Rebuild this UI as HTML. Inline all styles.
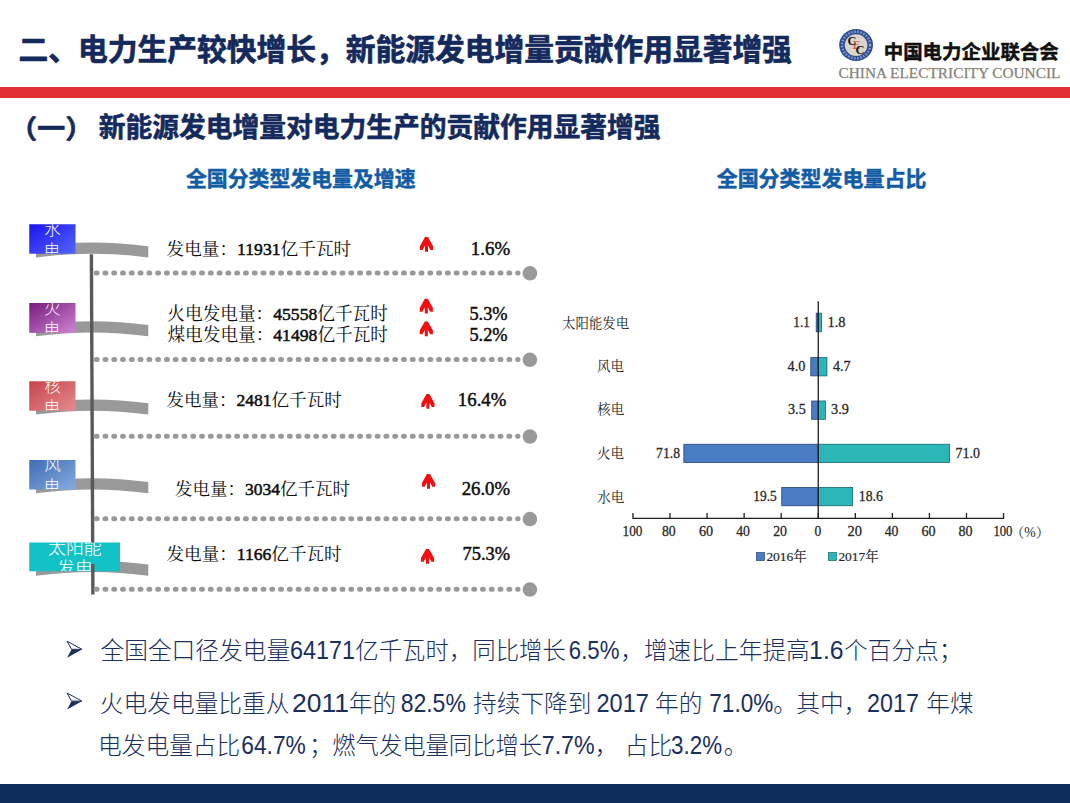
<!DOCTYPE html>
<html lang="zh-CN">
<head>
<meta charset="utf-8">
<title>二、电力生产较快增长，新能源发电增量贡献作用显著增强</title>
<style>
html,body{margin:0;padding:0;background:#fff;}
body{font-family:"Liberation Sans",sans-serif;}
#slide{position:relative;width:1070px;height:803px;overflow:hidden;background:#fff;}
#rule{position:absolute;left:0;top:87px;width:1070px;height:10.5px;background:#df2f31;}
#foot{position:absolute;left:0;top:784.3px;width:1070px;height:18.7px;background:#0f2d5b;}
#art{position:absolute;left:0;top:0;width:1070px;height:803px;}
#art text{font-family:"Liberation Serif",serif;}
#art text.sb{font-family:"Liberation Sans","Noto Sans CJK SC",sans-serif;font-weight:bold;}
#art text.sl{font-family:"Liberation Sans","Noto Sans CJK SC",sans-serif;font-weight:300;}
#art text.sf{font-family:"Liberation Serif","Noto Serif CJK SC",serif;}
</style>
</head>
<body>
<div id="slide">
<div id="rule"></div>
<div id="foot"></div>
<svg id="art" viewBox="0 0 1070 803" width="1070" height="803">
<text class="sb" x="18.39" y="60.33" font-size="29.75" fill="#152a5c" stroke="#152a5c" stroke-width="0.7" stroke-linejoin="round" textLength="773.5">二、电力生产较快增长，新能源发电增量贡献作用显著增强</text>
<text class="sb" x="9.26" y="137.98" font-size="26" fill="#152a5c" stroke="#152a5c" stroke-width="0.6" stroke-linejoin="round" textLength="83.9" lengthAdjust="spacingAndGlyphs">（一）</text>
<text class="sb" x="98.8" y="136.7" font-size="26.75" fill="#152a5c" stroke="#152a5c" stroke-width="0.6" stroke-linejoin="round" textLength="561.75">新能源发电增量对电力生产的贡献作用显著增强</text>
<text class="sb" x="883.69" y="59.47" font-size="19.45" fill="#111" stroke="#111" stroke-width="0.5" stroke-linejoin="round" textLength="175.05">中国电力企业联合会</text>
<text class="sb" x="185.92" y="185.51" font-size="20.88" fill="#125ca5" stroke="#125ca5" stroke-width="0.5" stroke-linejoin="round" textLength="229.68">全国分类型发电量及增速</text>
<text class="sb" x="716.66" y="185.54" font-size="20.97" fill="#125ca5" stroke="#125ca5" stroke-width="0.5" stroke-linejoin="round" textLength="209.7">全国分类型发电量占比</text>
<g id="logo">
<ellipse cx="856.1" cy="45.05" rx="16.9" ry="16" fill="#2d4d93"/>
<ellipse cx="856.1" cy="45.05" rx="14" ry="13.3" fill="none" stroke="#9fb0d8" stroke-width="2.4" stroke-dasharray="1.6 1.5" opacity="0.8"/>
<ellipse cx="856.1" cy="45.1" rx="11.3" ry="10.9" fill="#dcd5cb"/>
<text x="852.6" y="49.4" font-size="12" font-weight="bold" fill="#d9676a">E</text>
<text x="847.4" y="44.9" font-size="12.4" font-weight="bold" fill="#161616">C</text>
<text x="855.5" y="53.7" font-size="12.4" font-weight="bold" fill="#161616">C</text>
</g>
<text x="838.57" y="78.4" font-size="15.2" fill="#857f75" textLength="221.84" lengthAdjust="spacingAndGlyphs" stroke="#857f75" stroke-width="0.25">CHINA ELECTRICITY COUNCIL</text>
<path fill="#999" d="M36 246.25 A420 420 0 0 1 148.3 246.25 L148.3 257.55 A409 409 0 0 0 36 257.55 Z"/>
<path fill="#999" d="M36 325 A420 420 0 0 1 148.3 325 L148.3 336.3 A409 409 0 0 0 36 336.3 Z"/>
<path fill="#999" d="M36 403.25 A420 420 0 0 1 148.3 403.25 L148.3 414.55 A409 409 0 0 0 36 414.55 Z"/>
<path fill="#999" d="M36 482 A420 420 0 0 1 148.3 482 L148.3 493.3 A409 409 0 0 0 36 493.3 Z"/>
<path fill="#999" d="M36 564.5 A420 420 0 0 1 148.3 564.5 L148.3 575.8 A409 409 0 0 0 36 575.8 Z"/>
<path fill="#595959" d="M89.7 254.3 L93.1 254.3 L94.6 594.5 L91.2 594.5 Z"/>
<path d="M96.2 273 H518" stroke="#999" stroke-width="5" stroke-linecap="round" stroke-dasharray="0.9 7.88" fill="none"/>
<circle cx="529.9" cy="273.3" r="7.3" fill="#999"/>
<path d="M96.2 359.5 H518" stroke="#999" stroke-width="5" stroke-linecap="round" stroke-dasharray="0.9 7.88" fill="none"/>
<circle cx="529.9" cy="359.8" r="7.3" fill="#999"/>
<path d="M96.2 436.25 H518" stroke="#999" stroke-width="5" stroke-linecap="round" stroke-dasharray="0.9 7.88" fill="none"/>
<circle cx="529.9" cy="436.55" r="7.3" fill="#999"/>
<path d="M96.2 518.75 H518" stroke="#999" stroke-width="5" stroke-linecap="round" stroke-dasharray="0.9 7.88" fill="none"/>
<circle cx="529.9" cy="519.05" r="7.3" fill="#999"/>
<path d="M96.2 589.25 H518" stroke="#999" stroke-width="5" stroke-linecap="round" stroke-dasharray="0.9 7.88" fill="none"/>
<circle cx="529.9" cy="589.55" r="7.3" fill="#999"/>
<defs>
<linearGradient id="gb" x1="0" y1="0" x2="1" y2="1"><stop offset="0" stop-color="#1c14f0"/><stop offset="1" stop-color="#5266f8"/></linearGradient>
<linearGradient id="gp" x1="0" y1="0" x2="1" y2="1"><stop offset="0" stop-color="#761c80"/><stop offset="1" stop-color="#d084d4"/></linearGradient>
<linearGradient id="gr" x1="0" y1="0" x2="1" y2="1"><stop offset="0" stop-color="#c54448"/><stop offset="1" stop-color="#e58c92"/></linearGradient>
<linearGradient id="gs" x1="0" y1="0" x2="1" y2="1"><stop offset="0" stop-color="#3f6db7"/><stop offset="1" stop-color="#84acdd"/></linearGradient>
<linearGradient id="gt" x1="0" y1="0" x2="1" y2="1"><stop offset="0" stop-color="#12c2c6"/><stop offset="1" stop-color="#12c2c6"/></linearGradient>
</defs>
<clipPath id="c0"><rect x="29.25" y="224.25" width="46.25" height="29.5"/></clipPath>
<rect x="29.25" y="224.25" width="46.25" height="29.5" fill="url(#gb)"/>
<g clip-path="url(#c0)">
<text class="sl" x="44.32" y="235.04" font-size="16.4" fill="#fff">水</text>
<text class="sl" x="43.74" y="256.36" font-size="16.4" fill="#fff">电</text>
</g>
<clipPath id="c1"><rect x="29.25" y="303" width="46.25" height="29.9"/></clipPath>
<rect x="29.25" y="303" width="46.25" height="29.9" fill="url(#gp)"/>
<g clip-path="url(#c1)">
<text class="sl" x="44.35" y="313.73" font-size="16.4" fill="#fff">火</text>
<text class="sl" x="43.74" y="335.11" font-size="16.4" fill="#fff">电</text>
</g>
<clipPath id="c2"><rect x="29.25" y="381.25" width="46.25" height="29.5"/></clipPath>
<rect x="29.25" y="381.25" width="46.25" height="29.5" fill="url(#gr)"/>
<g clip-path="url(#c2)">
<text class="sl" x="44.52" y="392.09" font-size="16.4" fill="#fff">核</text>
<text class="sl" x="43.74" y="413.36" font-size="16.4" fill="#fff">电</text>
</g>
<clipPath id="c3"><rect x="29.25" y="460" width="46.25" height="29.5"/></clipPath>
<rect x="29.25" y="460" width="46.25" height="29.5" fill="url(#gs)"/>
<g clip-path="url(#c3)">
<text class="sl" x="44.39" y="470.37" font-size="16.4" fill="#fff">风</text>
<text class="sl" x="43.74" y="492.11" font-size="16.4" fill="#fff">电</text>
</g>
<clipPath id="c4"><rect x="29.25" y="542.5" width="90.75" height="28.8"/></clipPath>
<rect x="29.25" y="542.5" width="90.75" height="28.8" fill="url(#gt)"/>
<g clip-path="url(#c4)">
<text class="sl" x="48.08" y="553.89" font-size="17.9" fill="#fff" textLength="53.7">太阳能</text>
<text class="sl" x="57.1" y="574.98" font-size="17.9" fill="#fff" textLength="35.8">发电</text>
</g>
<path fill="#595959" d="M91.1 564H94.5V572H91.1Z"/>
<text class="sf" x="166.49" y="254.8" font-size="17.59" fill="#0d0d0d" textLength="184.7" lengthAdjust="spacingAndGlyphs">发电量：<tspan stroke="#0d0d0d" stroke-width="0.5">11931</tspan>亿千瓦时</text>
<text class="sf" x="167.36" y="319.6" font-size="17.64" fill="#0d0d0d" textLength="220.5" lengthAdjust="spacingAndGlyphs">火电发电量：<tspan stroke="#0d0d0d" stroke-width="0.5">45558</tspan>亿千瓦时</text>
<text class="sf" x="167.47" y="341.3" font-size="17.64" fill="#0d0d0d" textLength="220.5" lengthAdjust="spacingAndGlyphs">煤电发电量：<tspan stroke="#0d0d0d" stroke-width="0.5">41498</tspan>亿千瓦时</text>
<text class="sf" x="166.49" y="405.6" font-size="17.52" fill="#0d0d0d" textLength="175.2" lengthAdjust="spacingAndGlyphs">发电量：<tspan stroke="#0d0d0d" stroke-width="0.5">2481</tspan>亿千瓦时</text>
<text class="sf" x="174.99" y="494.6" font-size="17.49" fill="#0d0d0d" textLength="174.9" lengthAdjust="spacingAndGlyphs">发电量：<tspan stroke="#0d0d0d" stroke-width="0.5">3034</tspan>亿千瓦时</text>
<text class="sf" x="166.49" y="560.4" font-size="17.52" fill="#0d0d0d" textLength="175.2" lengthAdjust="spacingAndGlyphs">发电量：<tspan stroke="#0d0d0d" stroke-width="0.5">1166</tspan>亿千瓦时</text>
<text x="470.84" y="255" font-size="17.83" fill="#0d0d0d" textLength="39.3" lengthAdjust="spacingAndGlyphs" stroke="#0d0d0d" stroke-width="0.45">1.6%</text>
<text x="469.43" y="319.6" font-size="17.83" fill="#0d0d0d" textLength="38.19" lengthAdjust="spacingAndGlyphs" stroke="#0d0d0d" stroke-width="0.45">5.3%</text>
<text x="469.43" y="341.3" font-size="17.83" fill="#0d0d0d" textLength="38.19" lengthAdjust="spacingAndGlyphs" stroke="#0d0d0d" stroke-width="0.45">5.2%</text>
<text x="457.85" y="405.6" font-size="17.83" fill="#0d0d0d" textLength="48.54" lengthAdjust="spacingAndGlyphs" stroke="#0d0d0d" stroke-width="0.45">16.4%</text>
<text x="461.68" y="494.6" font-size="17.83" fill="#0d0d0d" textLength="48.47" lengthAdjust="spacingAndGlyphs" stroke="#0d0d0d" stroke-width="0.45">26.0%</text>
<text x="462.54" y="560.2" font-size="17.83" fill="#0d0d0d" textLength="47.59" lengthAdjust="spacingAndGlyphs" stroke="#0d0d0d" stroke-width="0.45">75.3%</text>
<defs><path id="arw" fill="#f01010" d="M-1.5 0H1.5L6.6 9.2V12.9H3.9L1.5 8.6V14.8H-1.5V8.6L-3.9 12.9H-6.6V9.2Z"/></defs>
<use href="#arw" x="426.5" y="237"/>
<use href="#arw" x="426.3" y="298.75"/>
<use href="#arw" x="426.3" y="321.4"/>
<use href="#arw" x="427.9" y="394"/>
<use href="#arw" x="428.5" y="473.9"/>
<use href="#arw" x="427.5" y="548.9"/>
<rect x="816.19" y="313.2" width="2.06" height="18.6" fill="#4a7cc4" stroke="#27457d" stroke-width="0.8"/>
<rect x="818.25" y="313.2" width="3.33" height="18.6" fill="#2cb6b7" stroke="#15686b" stroke-width="0.8"/>
<rect x="810.76" y="357.6" width="7.49" height="18.3" fill="#4a7cc4" stroke="#27457d" stroke-width="0.8"/>
<rect x="818.25" y="357.6" width="8.69" height="18.3" fill="#2cb6b7" stroke="#15686b" stroke-width="0.8"/>
<rect x="811.7" y="401" width="6.55" height="18.3" fill="#4a7cc4" stroke="#27457d" stroke-width="0.8"/>
<rect x="818.25" y="401" width="7.21" height="18.3" fill="#2cb6b7" stroke="#15686b" stroke-width="0.8"/>
<rect x="683.84" y="444.25" width="134.41" height="18.25" fill="#4a7cc4" stroke="#27457d" stroke-width="0.8"/>
<rect x="818.25" y="444.25" width="131.28" height="18.25" fill="#2cb6b7" stroke="#15686b" stroke-width="0.8"/>
<rect x="781.75" y="487.5" width="36.5" height="18.25" fill="#4a7cc4" stroke="#27457d" stroke-width="0.8"/>
<rect x="818.25" y="487.5" width="34.39" height="18.25" fill="#2cb6b7" stroke="#15686b" stroke-width="0.8"/>
<path d="M818.25 301.3V518.3" stroke="#1e1e1e" stroke-width="1.3" fill="none"/>
<path d="M632.35 518.3H1004.15M632.95 513V518.3M670.01 513V518.3M707.07 513V518.3M744.13 513V518.3M781.19 513V518.3M818.25 513V518.3M855.31 513V518.3M892.37 513V518.3M929.43 513V518.3M966.49 513V518.3M1003.55 513V518.3" stroke="#1e1e1e" stroke-width="1.3" fill="none"/>
<text class="sf" x="562.07" y="327.74" font-size="13.41" fill="#262626" textLength="67.05">太阳能发电</text>
<text class="sf" x="597.07" y="371.13" font-size="13.53" fill="#262626" textLength="27.06">风电</text>
<text class="sf" x="597.23" y="414.13" font-size="13.45" fill="#262626" textLength="26.9">核电</text>
<text class="sf" x="597.07" y="458.26" font-size="13.53" fill="#262626" textLength="27.06">火电</text>
<text class="sf" x="597.16" y="502.03" font-size="13.48" fill="#262626" textLength="26.96">水电</text>
<text x="793.34" y="327.2" font-size="15.3" fill="#262626" textLength="16.45" lengthAdjust="spacingAndGlyphs" stroke="#262626" stroke-width="0.3">1.1</text>
<text x="827.53" y="327.2" font-size="15.3" fill="#262626" textLength="18.02" lengthAdjust="spacingAndGlyphs" stroke="#262626" stroke-width="0.3">1.8</text>
<text x="787.52" y="370.5" font-size="15.3" fill="#262626" textLength="17.82" lengthAdjust="spacingAndGlyphs" stroke="#262626" stroke-width="0.3">4.0</text>
<text x="832.92" y="370.5" font-size="15.3" fill="#262626" textLength="17.68" lengthAdjust="spacingAndGlyphs" stroke="#262626" stroke-width="0.3">4.7</text>
<text x="788.02" y="414.1" font-size="15.3" fill="#262626" textLength="17.73" lengthAdjust="spacingAndGlyphs" stroke="#262626" stroke-width="0.3">3.5</text>
<text x="831.12" y="414.1" font-size="15.3" fill="#262626" textLength="17.76" lengthAdjust="spacingAndGlyphs" stroke="#262626" stroke-width="0.3">3.9</text>
<text x="656.1" y="457.5" font-size="15.3" fill="#262626" textLength="23.92" lengthAdjust="spacingAndGlyphs" stroke="#262626" stroke-width="0.3">71.8</text>
<text x="955.58" y="457.5" font-size="15.3" fill="#262626" textLength="24.45" lengthAdjust="spacingAndGlyphs" stroke="#262626" stroke-width="0.3">71.0</text>
<text x="753.32" y="500.7" font-size="15.3" fill="#262626" textLength="23.45" lengthAdjust="spacingAndGlyphs" stroke="#262626" stroke-width="0.3">19.5</text>
<text x="858.79" y="500.7" font-size="15.3" fill="#262626" textLength="24.12" lengthAdjust="spacingAndGlyphs" stroke="#262626" stroke-width="0.3">18.6</text>
<text x="622.58" y="536.3" font-size="15.3" fill="#262626" textLength="19.92" lengthAdjust="spacingAndGlyphs" stroke="#262626" stroke-width="0.3">100</text>
<text x="661.98" y="536.3" font-size="15.3" fill="#262626" textLength="13.75" lengthAdjust="spacingAndGlyphs" stroke="#262626" stroke-width="0.3">80</text>
<text x="698.89" y="536.3" font-size="15.3" fill="#262626" textLength="14.15" lengthAdjust="spacingAndGlyphs" stroke="#262626" stroke-width="0.3">60</text>
<text x="736.23" y="536.3" font-size="15.3" fill="#262626" textLength="13.79" lengthAdjust="spacingAndGlyphs" stroke="#262626" stroke-width="0.3">40</text>
<text x="773.14" y="536.3" font-size="15.3" fill="#262626" textLength="13.89" lengthAdjust="spacingAndGlyphs" stroke="#262626" stroke-width="0.3">20</text>
<text x="814.48" y="536.3" font-size="15.3" fill="#262626" textLength="6.78" lengthAdjust="spacingAndGlyphs" stroke="#262626" stroke-width="0.3">0</text>
<text x="847.62" y="536.3" font-size="15.3" fill="#262626" textLength="14.43" lengthAdjust="spacingAndGlyphs" stroke="#262626" stroke-width="0.3">20</text>
<text x="884.73" y="536.3" font-size="15.3" fill="#262626" textLength="13.79" lengthAdjust="spacingAndGlyphs" stroke="#262626" stroke-width="0.3">40</text>
<text x="921.39" y="536.3" font-size="15.3" fill="#262626" textLength="14.15" lengthAdjust="spacingAndGlyphs" stroke="#262626" stroke-width="0.3">60</text>
<text x="958.46" y="536.3" font-size="15.3" fill="#262626" textLength="14.07" lengthAdjust="spacingAndGlyphs" stroke="#262626" stroke-width="0.3">80</text>
<text x="993.38" y="536.3" font-size="15.3" fill="#262626" textLength="19.1" lengthAdjust="spacingAndGlyphs" stroke="#262626" stroke-width="0.3">100</text>
<text class="sf" x="1010.59" y="536.74" font-size="13.79" fill="#262626" textLength="39.07" lengthAdjust="spacingAndGlyphs">（%）</text>
<rect x="756.4" y="552.6" width="8" height="8" fill="#4a7cc4" stroke="#27457d" stroke-width="0.7"/>
<rect x="828.4" y="552.6" width="8" height="8" fill="#2cb6b7" stroke="#15686b" stroke-width="0.7"/>
<text class="sf" x="766.41" y="561.41" font-size="13.44" fill="#262626" stroke="#262626" stroke-width="0.2" stroke-linejoin="round" textLength="40.32" lengthAdjust="spacingAndGlyphs">2016年</text>
<text class="sf" x="838.41" y="561.41" font-size="13.44" fill="#262626" stroke="#262626" stroke-width="0.2" stroke-linejoin="round" textLength="40.32" lengthAdjust="spacingAndGlyphs">2017年</text>
<g transform="translate(0 0)"><path d="M71.5 649.4L81.9 649.4L67.1 657.8Z" fill="#1b2f5c"/><path d="M67 641.2L81.9 649.3L71.5 649.3Z" fill="none" stroke="#1b2f5c" stroke-width="1"/></g>
<g transform="translate(0 51.8)"><path d="M71.5 649.4L81.9 649.4L67.1 657.8Z" fill="#1b2f5c"/><path d="M67 641.2L81.9 649.3L71.5 649.3Z" fill="none" stroke="#1b2f5c" stroke-width="1"/></g>
<text class="sl" x="100.49" y="658.7" font-size="23.7" fill="#1b2f5c" textLength="189.6">全国全口径发电量</text>
<text class="sl" x="289.94" y="658.7" font-size="25" fill="#1b2f5c" textLength="65" lengthAdjust="spacingAndGlyphs">64171</text>
<text class="sl" x="355.34" y="658.7" font-size="23.39" fill="#1b2f5c" textLength="210.51">亿千瓦时，同比增长</text>
<text class="sl" x="568.83" y="658.7" font-size="25" fill="#1b2f5c" textLength="50.5" lengthAdjust="spacingAndGlyphs">6.5%</text>
<text class="sl" x="620.18" y="658.7" font-size="23.7" fill="#1b2f5c" textLength="189.6">，增速比上年提高</text>
<text class="sl" x="809.08" y="658.7" font-size="25" fill="#1b2f5c" textLength="34.5" lengthAdjust="spacingAndGlyphs">1.6</text>
<text class="sl" x="844" y="658.7" font-size="23.7" fill="#1b2f5c" textLength="118.5">个百分点；</text>
<text class="sl" x="99.83" y="711.6" font-size="23.7" fill="#1b2f5c" textLength="189.6">火电发电量比重从</text>
<text class="sl" x="291.96" y="711.6" font-size="25" fill="#1b2f5c" textLength="57" lengthAdjust="spacingAndGlyphs">2011</text>
<text class="sl" x="348.77" y="711.6" font-size="23.7" fill="#1b2f5c" textLength="47.4">年的</text>
<text class="sl" x="400.66" y="711.6" font-size="25" fill="#1b2f5c" textLength="65.2" lengthAdjust="spacingAndGlyphs">82.5%</text>
<text class="sl" x="472.99" y="711.6" font-size="23.7" fill="#1b2f5c" textLength="118.5">持续下降到</text>
<text class="sl" x="596.52" y="711.6" font-size="25" fill="#1b2f5c" textLength="52.4" lengthAdjust="spacingAndGlyphs">2017</text>
<text class="sl" x="655.02" y="711.6" font-size="23.7" fill="#1b2f5c" textLength="47.4">年的</text>
<text class="sl" x="709.29" y="711.6" font-size="25" fill="#1b2f5c" textLength="64" lengthAdjust="spacingAndGlyphs">71.0%</text>
<text class="sl" x="773.36" y="711.6" font-size="23.7" fill="#1b2f5c">。</text>
<text class="sl" x="796.34" y="711.6" font-size="23.7" fill="#1b2f5c" textLength="71.1">其中，</text>
<text class="sl" x="867.02" y="711.6" font-size="25" fill="#1b2f5c" textLength="51.9" lengthAdjust="spacingAndGlyphs">2017</text>
<text class="sl" x="926.27" y="711.6" font-size="23.7" fill="#1b2f5c" textLength="47.4">年煤</text>
<text class="sl" x="98.05" y="754.3" font-size="23.7" fill="#1b2f5c" textLength="142.2">电发电量占比</text>
<text class="sl" x="241.31" y="754.3" font-size="25" fill="#1b2f5c" textLength="64.5" lengthAdjust="spacingAndGlyphs">64.7%</text>
<text class="sl" x="308.93" y="754.3" font-size="23.32" fill="#1b2f5c" textLength="233.2">；燃气发电量同比增长</text>
<text class="sl" x="541.72" y="754.3" font-size="25" fill="#1b2f5c" textLength="52.9" lengthAdjust="spacingAndGlyphs">7.7%</text>
<text class="sl" x="594.68" y="754.3" font-size="23.7" fill="#1b2f5c">，</text>
<text class="sl" x="624.79" y="754.3" font-size="23.7" fill="#1b2f5c" textLength="47.4">占比</text>
<text class="sl" x="671.06" y="754.3" font-size="25" fill="#1b2f5c" textLength="51" lengthAdjust="spacingAndGlyphs">3.2%</text>
<text class="sl" x="723.86" y="754.3" font-size="23.7" fill="#1b2f5c">。</text>
</svg>
</div>
</body>
</html>
